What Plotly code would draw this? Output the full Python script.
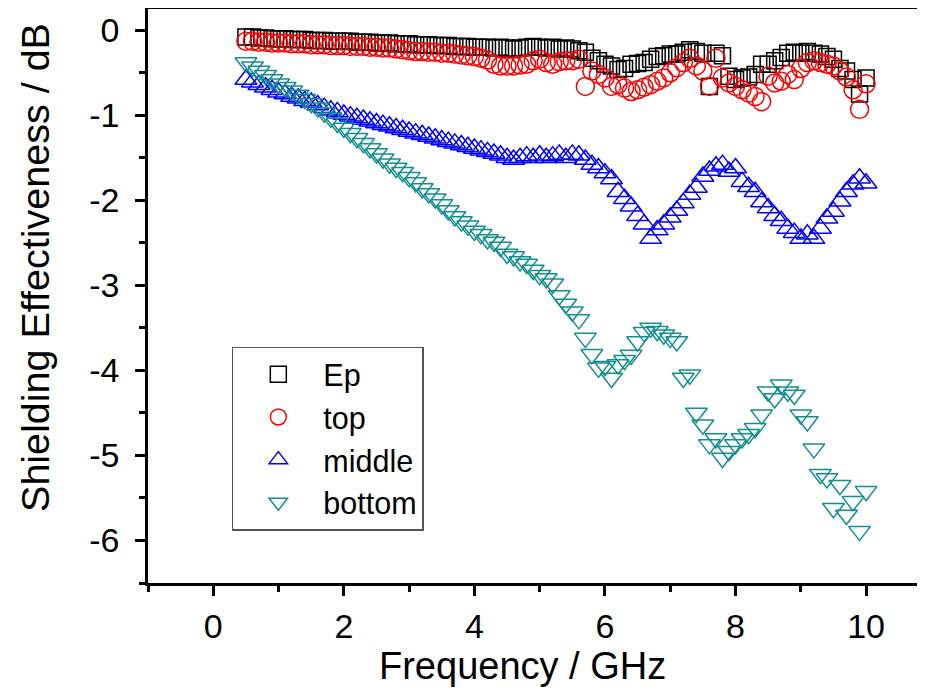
import plotly.graph_objects as go

freq = [0.5, 0.6, 0.7, 0.8, 0.9, 1.0,
        1.1, 1.2, 1.3, 1.4, 1.5, 1.6, 1.7, 1.8, 1.9, 2.0,
        2.1, 2.2, 2.3, 2.4, 2.5, 2.6, 2.7, 2.8, 2.9, 3.0,
        3.1, 3.2, 3.3, 3.4, 3.5, 3.6, 3.7, 3.8, 3.9, 4.0,
        4.1, 4.2, 4.3, 4.4, 4.5, 4.6, 4.7, 4.8, 4.9, 5.0,
        5.1, 5.2, 5.3, 5.4, 5.5, 5.6, 5.7, 5.8, 5.9, 6.0,
        6.1, 6.2, 6.3, 6.4, 6.5, 6.6, 6.7, 6.8, 6.9, 7.0,
        7.1, 7.2, 7.3, 7.4, 7.5, 7.6, 7.7, 7.8, 7.9, 8.0,
        8.1, 8.2, 8.3, 8.4, 8.5, 8.6, 8.7, 8.8, 8.9, 9.0,
        9.1, 9.2, 9.3, 9.4, 9.5, 9.6, 9.7, 9.8, 9.9, 10.0]

ep = [-0.08, -0.08, -0.09, -0.09, -0.10, -0.10,
      -0.10, -0.11, -0.11, -0.11, -0.12, -0.12, -0.12, -0.13, -0.13, -0.13,
      -0.13, -0.14, -0.14, -0.14, -0.15, -0.15, -0.15, -0.16, -0.16, -0.16,
      -0.17, -0.17, -0.17, -0.18, -0.18, -0.18, -0.19, -0.19, -0.19, -0.20,
      -0.20, -0.20, -0.21, -0.20, -0.21, -0.22, -0.21, -0.20, -0.19, -0.20,
      -0.21, -0.20, -0.22, -0.21, -0.22, -0.24, -0.26, -0.33, -0.36, -0.40,
      -0.42, -0.46, -0.45, -0.40, -0.39, -0.38, -0.34, -0.31, -0.30, -0.28,
      -0.28, -0.26, -0.23, -0.25, -0.27, -0.66, -0.27, -0.30, -0.54, -0.58,
      -0.56, -0.55, -0.52, -0.40, -0.40, -0.36, -0.32, -0.27, -0.26, -0.27,
      -0.25, -0.27, -0.28, -0.31, -0.34, -0.45, -0.48, -0.58, -0.75, -0.56]

top = [-0.13, -0.13, -0.14, -0.14, -0.15, -0.15,
       -0.15, -0.16, -0.16, -0.16, -0.17, -0.17, -0.17, -0.18, -0.18, -0.18,
       -0.19, -0.19, -0.19, -0.20, -0.20, -0.21, -0.21, -0.22, -0.23, -0.24,
       -0.25, -0.25, -0.26, -0.26, -0.27, -0.27, -0.28, -0.29, -0.30, -0.31,
       -0.33, -0.35, -0.40, -0.42, -0.42, -0.42, -0.41, -0.40, -0.36, -0.34,
       -0.38, -0.40, -0.37, -0.36, -0.36, -0.34, -0.66, -0.48, -0.52, -0.56,
       -0.66, -0.64, -0.68, -0.72, -0.70, -0.67, -0.64, -0.60, -0.56, -0.50,
       -0.44, -0.38, -0.33, -0.42, -0.48, -0.66, -0.33, -0.56, -0.62, -0.66,
       -0.70, -0.74, -0.78, -0.84, -0.54, -0.62, -0.60, -0.52, -0.58, -0.45,
       -0.38, -0.36, -0.38, -0.40, -0.42, -0.48, -0.55, -0.70, -0.93, -0.63]

middle = [-0.58, -0.61, -0.64, -0.67, -0.70, -0.73,
          -0.75, -0.78, -0.80, -0.83, -0.85, -0.88, -0.91, -0.94, -0.96, -0.99,
          -1.01, -1.03, -1.05, -1.07, -1.09, -1.11, -1.13, -1.15, -1.17, -1.19,
          -1.21, -1.23, -1.25, -1.27, -1.29, -1.31, -1.33, -1.35, -1.37, -1.39,
          -1.41, -1.43, -1.45, -1.47, -1.50, -1.52, -1.50, -1.48, -1.50, -1.47,
          -1.50, -1.48, -1.46, -1.50, -1.46, -1.47, -1.52, -1.58, -1.62, -1.68,
          -1.75, -1.90, -1.98, -2.07, -2.18, -2.28, -2.45, -2.35, -2.28, -2.20,
          -2.12, -2.03, -1.93, -1.85, -1.72, -1.65, -1.60, -1.58, -1.66, -1.62,
          -1.78, -1.84, -1.90, -2.02, -2.09, -2.18, -2.24, -2.33, -2.38, -2.45,
          -2.40, -2.45, -2.33, -2.21, -2.13, -2.01, -1.90, -1.81, -1.74, -1.80]

bottom = [-0.38, -0.43, -0.48, -0.53, -0.58, -0.63,
          -0.67, -0.71, -0.76, -0.81, -0.86, -0.91, -0.97, -1.03, -1.09, -1.15,
          -1.21, -1.27, -1.33, -1.39, -1.45, -1.51, -1.57, -1.62, -1.67, -1.73,
          -1.79, -1.86, -1.92, -1.98, -2.05, -2.12, -2.19, -2.25, -2.30, -2.36,
          -2.40, -2.46, -2.49, -2.55, -2.63, -2.66, -2.72, -2.75, -2.82, -2.88,
          -2.92, -2.98, -3.12, -3.22, -3.31, -3.40, -3.62, -3.81, -3.97, -3.95,
          -4.09, -3.93, -3.88, -3.82, -3.66, -3.55, -3.50, -3.54, -3.58, -3.62,
          -3.66, -4.09, -4.05, -4.50, -4.64, -4.87, -4.80, -5.03, -4.95, -4.87,
          -4.80, -4.75, -4.68, -4.52, -4.25, -4.33, -4.17, -4.25, -4.29, -4.52,
          -4.60, -4.92, -5.22, -5.27, -5.62, -5.35, -5.70, -5.54, -5.89, -5.42]

series_names = ["Ep", "top", "middle", "bottom"]
series_values = [ep, top, middle, bottom]

y_tickvals = [0, -1, -2, -3, -4, -5, -6]
y_ticktext = ["0", "-1", "-2", "-3", "-4", "-5", "-6"]
x_tickvals = [0, 2, 4, 6, 8, 10]
x_ticktext = ["0", "2", "4", "6", "8", "10"]

symbols = ["square-open", "circle-open", "triangle-up-open", "triangle-down-open"]
colors = ["#000000", "#ff0000", "#0000ff", "#138f8f"]
sizes = [16, 18, 19, 19]

FONT = "Liberation Sans, Arial, sans-serif"

fig = go.Figure()
for name, vals, sym, col, sz in zip(series_names, series_values, symbols, colors, sizes):
    fig.add_trace(go.Scatter(
        x=freq, y=vals, mode="markers", name=name,
        marker=dict(symbol=sym, size=sz, color=col, line=dict(width=1.5, color=col)),
    ))

fig.update_layout(
    width=909, height=679,
    margin=dict(l=140, r=0, t=1, b=104, autoexpand=False),
    paper_bgcolor="white", plot_bgcolor="white",
    font=dict(family=FONT, size=34, color="black"),
    showlegend=True,
    legend=dict(
        x=0.109, y=0.412, xanchor="left", yanchor="top",
        bordercolor="#555555", borderwidth=1.5, bgcolor="white",
        font=dict(family=FONT, size=30.5, color="black"),
        itemsizing="trace", itemwidth=80, tracegroupgap=0,
    ),
    xaxis=dict(
        range=[-1, 10.78], tickmode="array", tickvals=x_tickvals, ticktext=x_ticktext,
        ticks="outside", ticklen=10, tickwidth=2.5, tickcolor="black",
        minor=dict(ticks="outside", ticklen=6, tickwidth=2.5, dtick=1, tick0=0, tickcolor="black"),
        showline=True, linewidth=2.5, linecolor="black", mirror=True,
        showgrid=False, zeroline=False,
        tickfont=dict(family=FONT, size=34, color="black"),
        ticklabelstandoff=1,
    ),
    yaxis=dict(
        range=[-6.5, 0.25], tickmode="array", tickvals=y_tickvals, ticktext=y_ticktext,
        ticks="outside", ticklen=10, tickwidth=2.5, tickcolor="black",
        minor=dict(ticks="outside", ticklen=6, tickwidth=2.5, dtick=0.5, tick0=0, tickcolor="black"),
        showline=True, linewidth=2.5, linecolor="black", mirror=False,
        showgrid=False, zeroline=False,
        tickfont=dict(family=FONT, size=34, color="black"),
        ticklabelstandoff=9,
    ),
    annotations=[
        dict(text="Frequency / GHz", xref="paper", yref="paper", x=0.4876, y=-0.145,
             xanchor="center", yanchor="middle", showarrow=False,
             font=dict(family=FONT, size=38, color="black")),
        dict(text="Shielding Effectiveness / dB", xref="paper", yref="paper",
             x=-0.147, y=0.5505, xanchor="center", yanchor="middle", textangle=-90,
             showarrow=False, font=dict(family=FONT, size=39.5, color="black")),
    ],
)

fig.write_html("out.html")
